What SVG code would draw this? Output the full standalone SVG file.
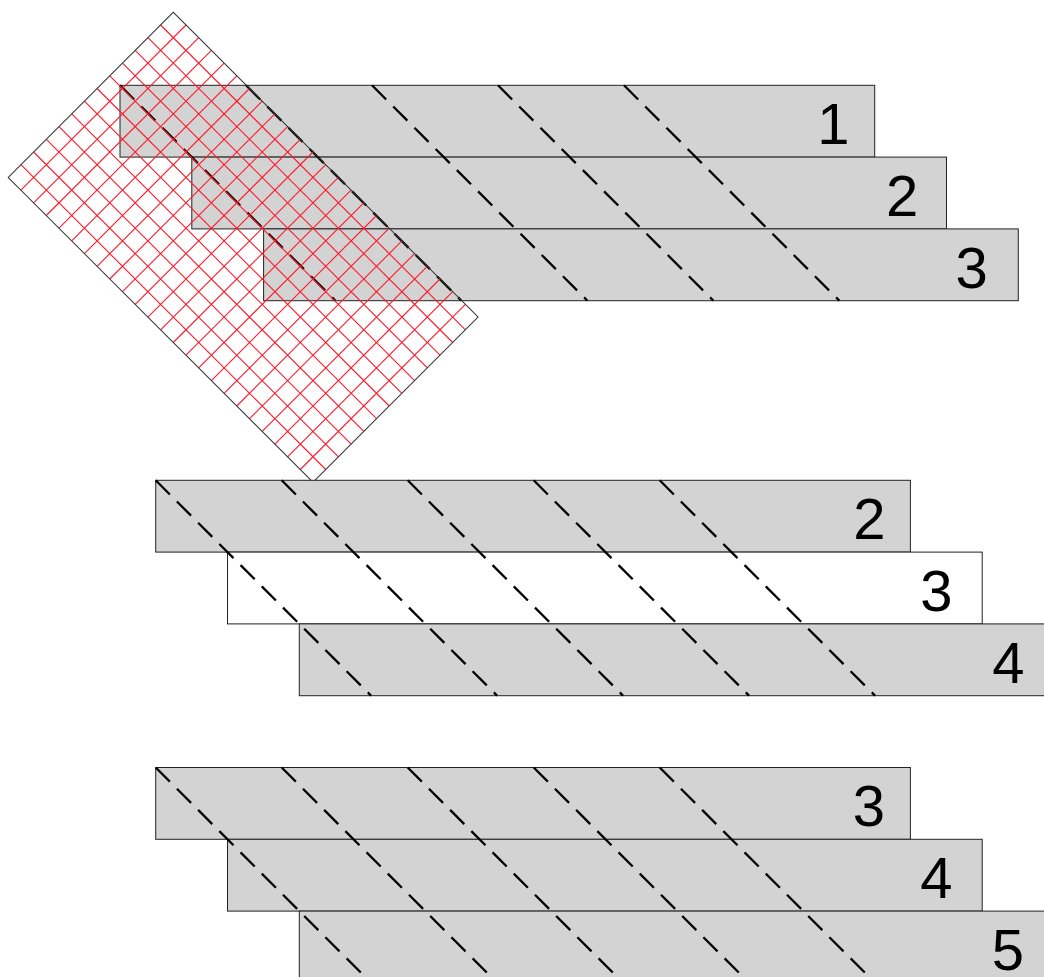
<svg xmlns="http://www.w3.org/2000/svg" width="1044" height="977" viewBox="0 0 1044 977">
<style>
.strip{fill:#d3d3d3;stroke:#222;stroke-width:1}
.white{fill:#ffffff}
.dash{stroke:#000;stroke-width:2.3;stroke-dasharray:20 10;fill:none}
.lbl{font-family:"Liberation Sans",Arial,sans-serif;font-size:58px;fill:#000;text-anchor:middle}
.grid{stroke:#ff1a2a;stroke-width:1.1;fill:none}
.border{stroke:#333;stroke-width:1;fill:none}
</style>
<rect width="1044" height="977" fill="#ffffff"/>

<g id="group-top">
  <g id="strip-1"><rect class="strip" x="120" y="85.3" width="754.7" height="71.8"/><text class="lbl" x="833.4" y="144.1">1</text></g>
  <g id="strip-2"><rect class="strip" x="191.8" y="157.1" width="754.7" height="71.8"/><text class="lbl" x="902.2" y="215.9">2</text></g>
  <g id="strip-3"><rect class="strip" x="263.6" y="228.9" width="754.7" height="71.8"/><text class="lbl" x="971.7" y="287.7">3</text></g>
  <g id="dashes-top">
    <line class="dash" x1="120" y1="85.3" x2="335.4" y2="300.7"/>
    <line class="dash" x1="246" y1="85.3" x2="461.4" y2="300.7"/>
    <line class="dash" x1="372" y1="85.3" x2="587.4" y2="300.7"/>
    <line class="dash" x1="498" y1="85.3" x2="713.4" y2="300.7"/>
    <line class="dash" x1="624" y1="85.3" x2="839.4" y2="300.7"/>
  </g>
</g>

<g id="grid" transform="translate(173.3 12.3) rotate(45)">
  <path class="grid" d="M17.96 0V233.49M35.92 0V233.49M53.88 0V233.49M71.84 0V233.49M89.8 0V233.49M107.77 0V233.49M125.73 0V233.49M143.69 0V233.49M161.65 0V233.49M179.61 0V233.49M197.57 0V233.49M215.53 0V233.49M233.49 0V233.49M251.45 0V233.49M269.41 0V233.49M287.38 0V233.49M305.34 0V233.49M323.3 0V233.49M341.26 0V233.49M359.22 0V233.49M377.18 0V233.49M395.14 0V233.49M413.1 0V233.49M0 17.96H431.06M0 35.92H431.06M0 53.88H431.06M0 71.84H431.06M0 89.8H431.06M0 107.77H431.06M0 125.73H431.06M0 143.69H431.06M0 161.65H431.06M0 179.61H431.06M0 197.57H431.06M0 215.53H431.06"/>
  <rect class="border" x="0" y="0" width="431.06" height="233.49"/>
</g>

<g id="group-middle">
  <g id="strip-m2"><rect class="strip" x="155.7" y="480.3" width="754.7" height="71.8"/><text class="lbl" x="869.5" y="539.1">2</text></g>
  <g id="strip-m3"><rect class="strip white" x="227.5" y="552.1" width="754.7" height="71.8"/><text class="lbl" x="936.3" y="610.9">3</text></g>
  <g id="strip-m4"><rect class="strip" x="299.3" y="623.9" width="754.7" height="71.8"/><text class="lbl" x="1008.3" y="682.7">4</text></g>
  <g id="dashes-middle">
    <line class="dash" x1="155.7" y1="480.3" x2="371.1" y2="695.7"/>
    <line class="dash" x1="281.7" y1="480.3" x2="497.1" y2="695.7"/>
    <line class="dash" x1="407.7" y1="480.3" x2="623.1" y2="695.7"/>
    <line class="dash" x1="533.7" y1="480.3" x2="749.1" y2="695.7"/>
    <line class="dash" x1="659.7" y1="480.3" x2="875.1" y2="695.7"/>
  </g>
</g>

<g id="group-bottom">
  <g id="strip-b3"><rect class="strip" x="155.7" y="767.5" width="754.7" height="71.8"/><text class="lbl" x="869" y="826.3">3</text></g>
  <g id="strip-b4"><rect class="strip" x="227.5" y="839.3" width="754.7" height="71.8"/><text class="lbl" x="936.3" y="898.1">4</text></g>
  <g id="strip-b5"><rect class="strip" x="299.3" y="911.1" width="754.7" height="71.8"/><text class="lbl" x="1008" y="969.9">5</text></g>
  <g id="dashes-bottom">
    <line class="dash" x1="155.7" y1="767.5" x2="371.1" y2="982.9"/>
    <line class="dash" x1="281.7" y1="767.5" x2="497.1" y2="982.9"/>
    <line class="dash" x1="407.7" y1="767.5" x2="623.1" y2="982.9"/>
    <line class="dash" x1="533.7" y1="767.5" x2="749.1" y2="982.9"/>
    <line class="dash" x1="659.7" y1="767.5" x2="875.1" y2="982.9"/>
  </g>
</g>
</svg>
